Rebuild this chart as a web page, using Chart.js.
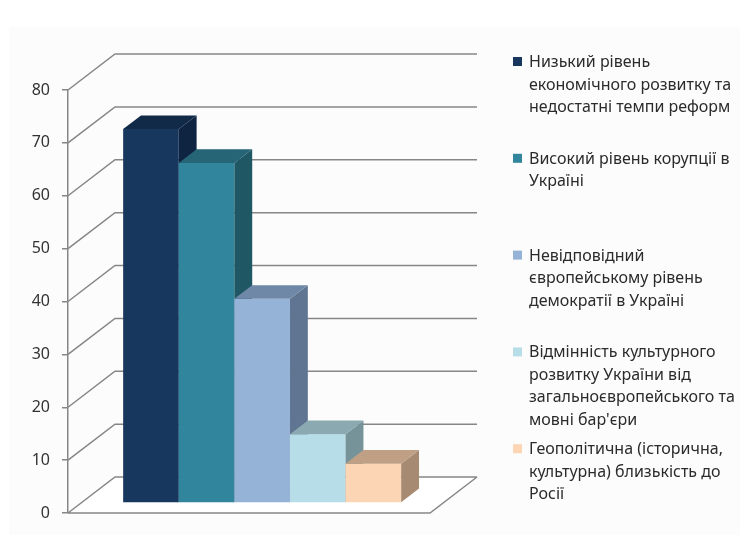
<!DOCTYPE html>
<html>
<head>
<meta charset="utf-8">
<script src="https://cdn.jsdelivr.net/npm/chart.js@4.4.0/dist/chart.umd.min.js"></script>
<style>
  html, body { margin: 0; padding: 0; background: #fff; }
</style>
</head>
<body>
<canvas id="chart" width="748" height="540"></canvas>
<script>
// data
var categories = [""];
var seriesNames = [
  ["Низький рівень", "економічного розвитку та", "недостатні темпи реформ"],
  ["Високий рівень корупції в", "Україні"],
  ["Невідповідний", "європейському рівень", "демократії в Україні"],
  ["Відмінність культурного", "розвитку України від", "загальноєвропейського та", "мовні бар'єри"],
  ["Геополітична (історична,", "культурна) близькість до", "Росії"]
];
var seriesValues = [70.7, 64.3, 38.6, 13.0, 7.4];
var yTicks = [0, 10, 20, 30, 40, 50, 60, 70, 80];

var frontColors = ["#17375e", "#31859c", "#95b3d7", "#b7dee8", "#fcd5b5"];
var topColors = ["#112a48", "#256576", "#7088a8", "#8ba9b0", "#c0a085"];
var sideColors = ["#0f2440", "#1f5765", "#5f7591", "#76939a", "#a68a72"];

// 3d look
var DX = 47, DY = -36;
var BAR_FRONT = 0.28, BAR_DEPTH = 0.38;
var GRID = "#868686";
var FONT = "16px 'Noto Sans'";

var box3d = {
  id: "box3d",
  beforeDraw: function (chart) {
    var ctx = chart.ctx;
    ctx.save();
    ctx.fillStyle = "#fcfcfc";
    ctx.fillRect(9, 27, 731, 508);
    ctx.restore();
  },
  beforeDatasetsDraw: function (chart) {
    var ctx = chart.ctx, a = chart.chartArea, ys = chart.scales.y;
    var y0 = ys.getPixelForValue(0);
    ctx.save();
    ctx.fillStyle = "#ffffff";
    ctx.beginPath();
    ctx.moveTo(a.left, y0);
    ctx.lineTo(a.right, y0);
    ctx.lineTo(a.right + DX, y0 + DY);
    ctx.lineTo(a.left + DX, y0 + DY);
    ctx.closePath();
    ctx.fill();
    ctx.strokeStyle = GRID;
    ctx.lineWidth = 1.5;
    ctx.beginPath();
    yTicks.forEach(function (v) {
      var py = ys.getPixelForValue(v);
      ctx.moveTo(a.left, py);
      ctx.lineTo(a.left + DX, py + DY);
      ctx.lineTo(a.right + DX, py + DY);
    });
    ctx.moveTo(a.left, y0);
    ctx.lineTo(a.right, y0);
    ctx.lineTo(a.right + DX, y0 + DY);
    ctx.stroke();
    ctx.restore();
  },
  // boxes are drawn below, left to right, so each one hides the side of the one before
  beforeDatasetDraw: function () { return false; },
  afterDatasetsDraw: function (chart) {
    var ctx = chart.ctx;
    var bx = DX * BAR_DEPTH, by = DY * BAR_DEPTH;
    ctx.save();
    ctx.translate(DX * BAR_FRONT, DY * BAR_FRONT);
    chart.data.datasets.forEach(function (ds, i) {
      var el = chart.getDatasetMeta(i).data[0];
      var x0 = el.x - el.width / 2, x1 = el.x + el.width / 2;
      var top = el.y, base = el.base;
      el.draw(ctx);
      ctx.fillStyle = sideColors[i];
      ctx.beginPath();
      ctx.moveTo(x1, top);
      ctx.lineTo(x1 + bx, top + by);
      ctx.lineTo(x1 + bx, base + by);
      ctx.lineTo(x1, base);
      ctx.closePath();
      ctx.fill();
      ctx.fillStyle = topColors[i];
      ctx.beginPath();
      ctx.moveTo(x0, top);
      ctx.lineTo(x1, top);
      ctx.lineTo(x1 + bx, top + by);
      ctx.lineTo(x0 + bx, top + by);
      ctx.closePath();
      ctx.fill();
    });
    ctx.restore();
  },
  afterDraw: function (chart) {
    // legend, one entry per series, spread down the right side
    var ctx = chart.ctx;
    ctx.save();
    ctx.font = FONT;
    ctx.textBaseline = "alphabetic";
    seriesNames.forEach(function (lines, i) {
      var base = 67 + i * 96.8;
      ctx.fillStyle = frontColors[i];
      ctx.fillRect(513, base - 10, 9, 9);
      ctx.fillStyle = "#2b2b2b";
      lines.forEach(function (t, k) {
        ctx.fillText(t, 529, base + k * 22.5);
      });
    });
    ctx.restore();
  }
};

new Chart(document.getElementById("chart"), {
  type: "bar",
  data: {
    labels: categories,
    datasets: seriesNames.map(function (n, i) {
      return {
        label: n.join(" "),
        data: [seriesValues[i]],
        backgroundColor: frontColors[i],
        borderWidth: 0
      };
    })
  },
  options: {
    responsive: false,
    animation: false,
    layout: { padding: { left: 0, right: 318, top: 90, bottom: 27 } },
    datasets: { bar: { categoryPercentage: 0.768, barPercentage: 1 } },
    plugins: { legend: { display: false }, tooltip: { enabled: false } },
    scales: {
      x: { display: false },
      y: {
        min: 0,
        max: 80,
        afterBuildTicks: function (s) {
          s.ticks = yTicks.map(function (v) { return { value: v }; });
        },
        afterFit: function (s) { s.width = 68; },
        grid: { drawOnChartArea: false, drawTicks: true, tickLength: 6, color: GRID, lineWidth: 1.5 },
        border: { color: GRID, width: 1.5 },
        ticks: { padding: 12, color: "#333333", font: { family: "Noto Sans", size: 16 } }
      }
    }
  },
  plugins: [box3d]
});
</script>
</body>
</html>
